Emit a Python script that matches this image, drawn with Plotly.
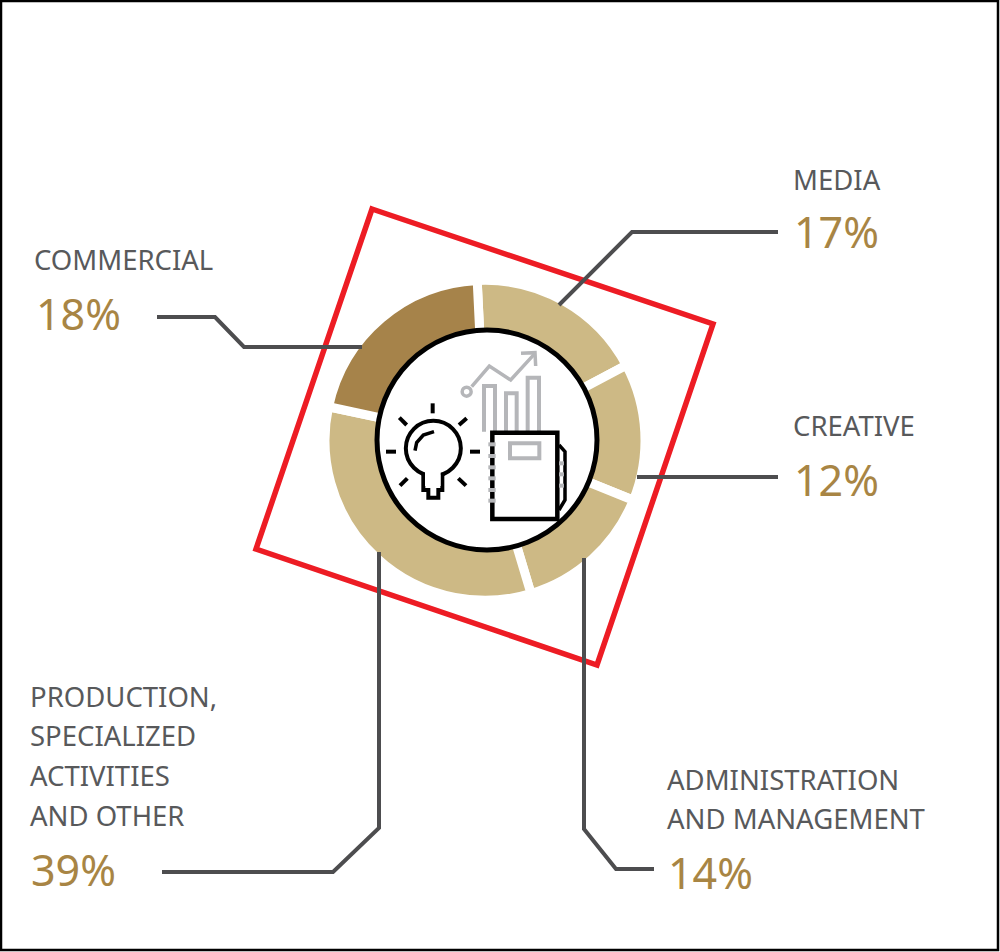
import plotly.graph_objects as go

W, H = 1000, 952

# Printed labels and their printed percentages
categories = ["MEDIA", "CREATIVE", "ADMINISTRATION\nAND MANAGEMENT",
              "PRODUCTION,\nSPECIALIZED\nACTIVITIES\nAND OTHER", "COMMERCIAL"]
printed_percent = ["17%", "12%", "14%", "39%", "18%"]
# Arc sizes as drawn in the picture (degrees read off the ring; not proportional to the print)
arc_degrees = [64.8, 50, 51.3, 118.8, 75.1]
slice_colors = ["#cdb985", "#cdb985", "#cdb985", "#cdb985", "#a6834a"]

LABEL = "#58595b"
GOLD = "#a88544"
LEADER = "#4d4d4f"
RED = "#ed1c24"
GRAY = "#b5b6b9"
FONT = "Noto Sans"
LABEL_SIZE = 27.5
PCT_SIZE = 43

def fx(x): return x / W
def fy(y): return 1 - y / H

def path(points, close=False):
    d = "M " + " L ".join(f"{fx(x):.5f},{fy(y):.5f}" for x, y in points)
    return d + (" Z" if close else "")

def z(points):  # icon sketch grid -> page pixels
    return [(360 + a / 3, 330 + b / 3) for a, b in points]

shapes = []
def line(points, color, width, close=False, fill=None):
    s = dict(type="path", path=path(points, close), xref="paper", yref="paper",
             line=dict(color=color, width=width), layer="above")
    if fill:
        s["fillcolor"] = fill
    shapes.append(s)

def circle(cx, cy, r, color, width, fill=None):
    shapes.append(dict(type="circle", xref="paper", yref="paper",
                       x0=fx(cx - r), x1=fx(cx + r), y0=fy(cy + r), y1=fy(cy - r),
                       line=dict(color=color, width=width),
                       fillcolor=fill if fill else "rgba(0,0,0,0)", layer="above"))

# Page frame
line([(1, 1), (998, 1), (998, 950), (1, 950)], "#000000", 2.5, close=True)
# Red tilted frame
line([(372, 209), (713, 324), (597, 665), (256, 549)], RED, 5.5, close=True)
# Leaders
line([(778, 232), (632, 232), (559, 305)], LEADER, 4)
line([(778, 477), (637, 477)], LEADER, 4)
line([(157, 317), (215, 317), (244, 347), (362, 347)], LEADER, 4)
line([(162, 872), (333, 872), (379, 828), (379, 552)], LEADER, 4)
line([(654, 869), (616, 869), (584, 829), (584, 558)], LEADER, 4)
# Centre disc
circle(487, 440, 110, "#000000", 5, "#ffffff")

# Icon: chart
circle(360 + 320 / 3, 330 + 185 / 3, 4.5, GRAY, 3.5)
line(z([(335, 170), (388, 108), (452, 150), (525, 70)]), GRAY, 3.5)
line(z([(483, 70), (525, 68), (527, 108)]), GRAY, 3.5)
line(z([(372, 305), (372, 168), (405, 168), (405, 305)]), GRAY, 4)
line(z([(438, 305), (438, 190), (470, 190), (470, 305)]), GRAY, 4)
line(z([(503, 305), (503, 143), (537, 143), (537, 305)]), GRAY, 4)
# Icon: bulb
circle(360 + 220 / 3, 330 + 355 / 3, 27.5, "#000000", 4, "#ffffff")
line(z([(190, 435), (190, 480), (205, 480), (205, 503), (235, 503), (235, 480),
        (247, 480), (247, 435)]), "#000000", 4, fill="#ffffff")
shapes.append(dict(type="rect", xref="paper", yref="paper", layer="above",
                   x0=fx(360 + 195 / 3), x1=fx(360 + 242 / 3), y0=fy(330 + 468 / 3), y1=fy(330 + 425 / 3),
                   fillcolor="#ffffff", line=dict(width=0)))
line(z([(165, 362), (170, 338), (190, 315), (222, 305)]), "#000000", 3.5)
for ray in [[(218, 220), (218, 250)], [(320, 265), (297, 285)], [(330, 365), (360, 365)],
            [(295, 445), (318, 467)], [(142, 445), (120, 467)], [(78, 365), (108, 365)],
            [(118, 263), (140, 285)]]:
    line(z(ray), "#000000", 4)
# Icon: notebook
line(z([(597, 345), (615, 365), (615, 510), (597, 540)]), "#000000", 3.5)
line(z([(397, 308), (592, 308), (592, 567), (397, 567)]), "#000000", 4.5, close=True, fill="#ffffff")
line(z([(450, 340), (538, 340), (538, 385), (450, 385)]), GRAY, 4, close=True)
for yy in (343, 378, 412, 445, 480, 512):
    line(z([(385, yy), (407, yy)]), GRAY, 4)
for yy in (400, 433, 467):
    line(z([(597, yy), (612, yy)]), GRAY, 4)

# Text placement: (x of label, y of first line, line step, x of pct, y of pct)
placements = [
    (794, 179, 40, 795, 231),
    (794, 426, 40, 795, 479),
    (668, 779, 39.5, 669, 872),
    (31, 696, 39.7, 32, 869),
    (35, 260, 40, 37, 314),
]
annotations = []
for cat, pct, (lx, ly, step, px, py) in zip(categories, printed_percent, placements):
    for i, txt in enumerate(cat.split("\n")):
        annotations.append(dict(text=txt, x=fx(lx), y=fy(ly + i * step), xref="paper", yref="paper",
                                xanchor="left", yanchor="middle", showarrow=False, xshift=-3,
                                font=dict(family=FONT, size=LABEL_SIZE, color=LABEL)))
    annotations.append(dict(text=pct, x=fx(px), y=fy(py), xref="paper", yref="paper",
                            xanchor="left", yanchor="middle", showarrow=False, xshift=-3,
                            font=dict(family=FONT, size=PCT_SIZE, color=GOLD)))

cx, cy, R = 485, 440.3, 160
pie = go.Pie(labels=[c.replace("\n", " ") for c in categories], values=arc_degrees,
             sort=False, direction="clockwise", rotation=357.2, hole=0.6,
             textinfo="none", hoverinfo="label",
             marker=dict(colors=slice_colors, line=dict(color="#ffffff", width=9)),
             domain=dict(x=[fx(cx - R), fx(cx + R)], y=[fy(cy + R), fy(cy - R)]),
             showlegend=False)

fig = go.Figure(pie)
fig.update_layout(width=W, height=H, margin=dict(l=0, r=0, t=0, b=0),
                  paper_bgcolor="#ffffff", plot_bgcolor="#ffffff",
                  shapes=shapes, annotations=annotations)
fig.write_html("out.html", config=dict(displayModeBar=False),
               post_script="document.body.style.margin='0';document.documentElement.style.overflow='hidden';")
